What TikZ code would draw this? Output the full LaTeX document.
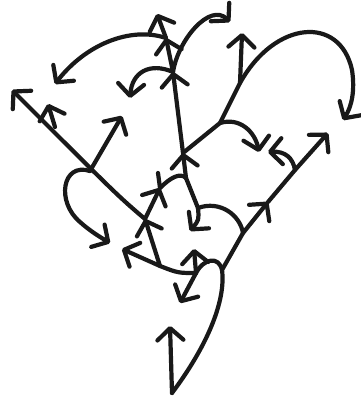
\documentclass[tikz,border=0pt]{standalone}
\usepackage{tikz}
\usetikzlibrary{arrows.meta,positioning,calc}
\tikzset{
  sk/line/.style={line width=4.2pt, line cap=round, line join=round, black!90},
  sk/arr/.style={sk/line, -{Straight Barb[length=12pt,width=26pt,round]}},
}
\begin{document}
\begin{tikzpicture}[x=1pt,y=-1pt]
  \useasboundingbox (0,0) rectangle (360,406);
  % junctions
  \coordinate (bot) at (172,393);
  \coordinate (lt) at (222,270);
  \coordinate (j1) at (196,273);
  \coordinate (j2) at (160,266);
  \coordinate (j3) at (145,219);
  \coordinate (star) at (160,188);
  \coordinate (mid) at (186,178);
  \coordinate (j5) at (198,208);
  \coordinate (k1) at (183,153);
  \coordinate (k2) at (220,123);
  \coordinate (k3) at (240,83);
  \coordinate (t1) at (173,72);
  \coordinate (t2) at (166,38);
  \coordinate (d1) at (90,171);
  \coordinate (d2) at (55,127);
  \coordinate (r1) at (243,233);
  \coordinate (r2) at (268,202);
  \coordinate (r3) at (295,170);
  % free ends
  \coordinate (up1) at (170,326);
  \coordinate (upc) at (194,249);
  \coordinate (dl) at (180,303);
  \coordinate (lf) at (122,249);
  \coordinate (tl) at (12,90);
  \coordinate (ur1) at (122,116);
  \coordinate (ul2) at (48,104);
  \coordinate (lp) at (110,243);
  \coordinate (v1) at (190,231);
  \coordinate (top) at (157,14);
  \coordinate (arcL) at (55,84);
  \coordinate (arcTR) at (230,22);
  \coordinate (arcD) at (130,98);
  \coordinate (hr) at (259,152);
  \coordinate (up2) at (242,33);
  \coordinate (bigR) at (343,120);
  \coordinate (r4) at (328,133);
  \coordinate (hook) at (268,152);

  % bottom loop
  \draw[sk/arr] (bot) -- (up1);
  \draw[sk/line] (bot) .. controls (208,345) and (226,300) .. (lt)
    .. controls (219,256) and (204,258) .. (j1);
  \draw[sk/arr] (j1) -- (upc);
  \draw[sk/arr] (j1) -- (dl);
  \draw[sk/arr] (j1) .. controls (178,273) .. (j2) -- (lf);
  \draw[sk/arr] (j2) -- (j3);

  % left diagonal
  \draw[sk/arr] (j3) .. controls (118,196) .. (tl);
  \draw[sk/arr] (d1) -- (ur1);
  \draw[sk/arr] (d2) -- (ul2);
  \draw[sk/arr] (d1) .. controls (62,162) and (56,202) .. (80,222)
    .. controls (90,231) and (100,237) .. (lp);

  % centre
  \draw[sk/arr] (j3) -- (star);
  \draw[sk/line] (star) -- (158,173);
  \draw[sk/line] (star) .. controls (170,178) and (180,172) .. (mid);
  \draw[sk/arr] (j5) -- (mid) -- (k1);
  \draw[sk/arr] (j5) .. controls (199,220) .. (v1);
  \draw[sk/line] (j5) .. controls (220,200) and (240,215) .. (r1);

  % right diagonal
  \draw[sk/arr] (lt) -- (r1) -- (r2);
  \draw[sk/arr] (r2) -- (r3) -- (r4);
  \draw[sk/arr] (r3) .. controls (293,158) and (285,151) .. (hook);

  % trunk
  \draw[sk/arr] (k1) -- (t1);
  \draw[sk/arr] (t1) -- (t2);
  \draw[sk/arr] (t2) -- (top);
  \draw[sk/arr] (t2) .. controls (130,26) and (85,45) .. (arcL);
  \draw[sk/arr] (t1) .. controls (178,40) and (210,2) .. (arcTR);
  \draw[sk/arr] (t1) .. controls (150,62) and (132,72) .. (arcD);

  % right branch
  \draw[sk/arr] (k1) -- (k2) -- (k3) -- (up2);
  \draw[sk/arr] (k2) .. controls (240,117) and (255,132) .. (hr);
  \draw[sk/arr] (k3) .. controls (275,20) and (340,15) .. (352,70)
    .. controls (355,90) and (352,106) .. (bigR);
\end{tikzpicture}
\end{document}
